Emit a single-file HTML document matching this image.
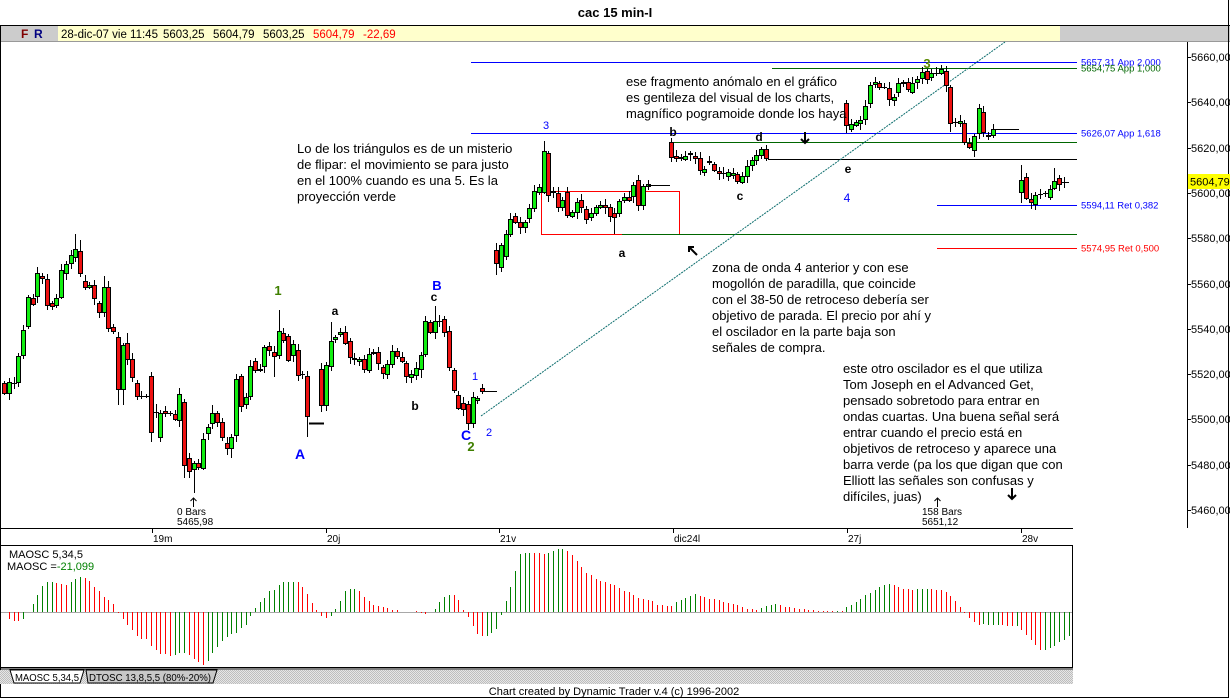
<!DOCTYPE html>
<html><head><meta charset="utf-8">
<style>
html,body{margin:0;padding:0;background:#fff;width:1230px;height:699px;overflow:hidden}
svg{display:block;font-family:"Liberation Sans",Arial,sans-serif}
</style></head><body>
<svg id="s" width="1230" height="699" viewBox="0 0 1230 699" xmlns="http://www.w3.org/2000/svg">
<defs>
<pattern id="hp" width="2" height="2" patternUnits="userSpaceOnUse"><rect width="2" height="2" fill="#e6e6e6"/><rect width="1" height="1" fill="#bdbdbd"/><rect x="1" y="1" width="1" height="1" fill="#bdbdbd"/></pattern>
</defs>
<rect width="1230" height="699" fill="#fff"/>
<text x="615" y="17" font-size="13" font-weight="bold" text-anchor="middle">cac 15 min-I</text>
<!-- info bar -->
<line x1="0" y1="25.5" x2="1230" y2="25.5" stroke="#000"/>
<rect x="0" y="26" width="1230" height="15" fill="#cccccc"/>
<rect x="58" y="26" width="1002" height="15" fill="#ffffcc"/>
<line x1="0" y1="41.5" x2="1230" y2="41.5" stroke="#999"/>
<text x="21" y="38" font-size="12" font-weight="bold" fill="#800000">F</text>
<text x="34" y="38" font-size="12" font-weight="bold" fill="#000080">R</text>
<g font-size="11.5">
<text x="61" y="38">28-dic-07 vie 11:45</text>
<text x="163" y="38">5603,25</text>
<text x="213" y="38">5604,79</text>
<text x="263" y="38">5603,25</text>
<text x="313" y="38" fill="#ff0000">5604,79</text>
<text x="363" y="38" fill="#ff0000">-22,69</text>
</g>
<!-- frame -->
<line x1="0.5" y1="25" x2="0.5" y2="698" stroke="#000"/>
<line x1="1228.5" y1="0" x2="1228.5" y2="698" stroke="#000"/>
<line x1="0" y1="697.5" x2="1229" y2="697.5" stroke="#000"/>
<!-- right axis -->
<line x1="1187.5" y1="42" x2="1187.5" y2="528" stroke="#000"/>
<g font-size="11" id="ax"></g>
<!-- date axis -->
<line x1="0" y1="528.5" x2="1073" y2="528.5" stroke="#000"/>
<g stroke="#000">
<line x1="152.5" y1="529" x2="152.5" y2="533"/><line x1="326.5" y1="529" x2="326.5" y2="533"/>
<line x1="499.5" y1="529" x2="499.5" y2="533"/><line x1="673.5" y1="529" x2="673.5" y2="533"/>
<line x1="847.5" y1="529" x2="847.5" y2="533"/><line x1="1021.5" y1="529" x2="1021.5" y2="533"/>
</g>
<g font-size="10">
<text x="153" y="542">19m</text><text x="327" y="542">20j</text><text x="500" y="542">21v</text>
<text x="674" y="542">dic24l</text><text x="848" y="542">27j</text><text x="1022" y="542">28v</text>
</g>
<!-- horizontal study lines -->
<g stroke-width="1">
<line x1="471" y1="62.5" x2="1077" y2="62.5" stroke="#0000ff"/>
<line x1="772" y1="68.5" x2="1077" y2="68.5" stroke="#006600"/>
<line x1="471" y1="133.5" x2="1077" y2="133.5" stroke="#0000ff"/>
<line x1="672" y1="142.5" x2="1077" y2="142.5" stroke="#006600"/>
<line x1="768" y1="159.5" x2="1077" y2="159.5" stroke="#000"/>
<line x1="937" y1="205.5" x2="1077" y2="205.5" stroke="#0000ff"/>
<line x1="622" y1="234.5" x2="1077" y2="234.5" stroke="#006600"/>
<line x1="937" y1="248.5" x2="1077" y2="248.5" stroke="#ff0000"/>
<rect x="541.5" y="191.5" width="138" height="43" fill="none" stroke="#ff0000"/>
<line x1="622" y1="234.5" x2="680" y2="234.5" stroke="#006600"/>
</g>
<g font-size="9.5">
<text x="1081" y="65.5" fill="#0000ff">5657,31 App 2,000</text>
<text x="1081" y="71.5" fill="#006600">5654,75 App 1,000</text>
<text x="1081" y="136.5" fill="#0000ff">5626,07 App 1,618</text>
<text x="1081" y="208.5" fill="#0000ff">5594,11 Ret 0,382</text>
<text x="1081" y="251.5" fill="#ff0000">5574,95 Ret 0,500</text>
</g>
<!-- trendline -->
<line x1="481" y1="416" x2="1005" y2="42" stroke="#0b6d6d" stroke-width="1" stroke-dasharray="2,1"/>
<!-- candles -->
<g id="cd"></g>
<g stroke="#000">
<line x1="309" y1="423.5" x2="324" y2="423.5" stroke-width="2"/>
<line x1="484" y1="391.5" x2="497" y2="391.5"/>
<line x1="648" y1="185.5" x2="670" y2="185.5"/>
<line x1="1000" y1="129.5" x2="1019" y2="129.5"/>
<line x1="1062" y1="182.5" x2="1069" y2="182.5"/>
</g>
<!-- current price -->
<rect x="1188" y="174" width="42" height="15" fill="#ffff00"/>
<text x="1190" y="185.5" font-size="11">5604,79</text>
<!-- wave labels -->
<g font-weight="bold">
<text x="278" y="295" font-size="13" fill="#3f7f00" text-anchor="middle">1</text>
<text x="335" y="315" font-size="12" text-anchor="middle">a</text>
<text x="434" y="301" font-size="12" text-anchor="middle">c</text>
<text x="437" y="290" font-size="13" fill="#0000ff" text-anchor="middle">B</text>
<text x="300" y="459" font-size="14" fill="#0000ff" text-anchor="middle">A</text>
<text x="415" y="410" font-size="12" text-anchor="middle">b</text>
<text x="466" y="440" font-size="14" fill="#0000ff" text-anchor="middle">C</text>
<text x="471" y="451" font-size="13" fill="#3f7f00" text-anchor="middle">2</text>
<text x="622" y="257" font-size="12" text-anchor="middle">a</text>
<text x="673" y="136" font-size="12" text-anchor="middle">b</text>
<text x="759" y="141" font-size="12" text-anchor="middle">d</text>
<text x="740" y="200" font-size="12" text-anchor="middle">c</text>
<text x="848" y="173" font-size="12" text-anchor="middle">e</text>
<text x="927" y="68" font-size="13" fill="#5a8a00" text-anchor="middle">3</text>
</g>
<g fill="#0000ff" font-size="11">
<text x="475" y="380" text-anchor="middle">1</text>
<text x="489" y="436" text-anchor="middle">2</text>
<text x="546" y="129" text-anchor="middle">3</text>
<text x="847" y="202" font-size="12" text-anchor="middle">4</text>
</g>
<!-- arrows -->
<g stroke="#000" fill="none">
<line x1="193.5" y1="498" x2="193.5" y2="507"/><polyline points="190.5,501 193.5,498 196.5,501"/>
<line x1="937.5" y1="498" x2="937.5" y2="507"/><polyline points="934.5,501 937.5,498 940.5,501"/>
<g stroke-width="2"><line x1="805" y1="132" x2="805" y2="143"/><polyline points="801,139 805,143 809,139"/>
<line x1="1012" y1="488" x2="1012" y2="499"/><polyline points="1008,495 1012,499 1016,495"/>
<line x1="697" y1="255" x2="689" y2="247"/><polyline points="689,252 689,247 694,247"/></g>
</g>
<g font-size="10">
<text x="177" y="515">0 Bars</text><text x="177" y="525">5465,98</text>
<text x="922" y="515">158 Bars</text><text x="922" y="525">5651,12</text>
</g>
<!-- annotations -->
<g font-size="13">
<text x="626" y="86"><tspan x="626">ese fragmento anómalo en el gráfico</tspan><tspan x="626" dy="16">es gentileza del visual de los charts,</tspan><tspan x="626" dy="16">magnífico pogramoide donde los haya</tspan></text>
<text x="297" y="153"><tspan x="297">Lo de los triángulos es de un misterio</tspan><tspan x="297" dy="16">de flipar: el movimiento se para justo</tspan><tspan x="297" dy="16">en el 100% cuando es una 5. Es la</tspan><tspan x="297" dy="16">proyección verde</tspan></text>
<text x="712" y="272"><tspan x="712">zona de onda 4 anterior y con ese</tspan><tspan x="712" dy="16">mogollón de paradilla, que coincide</tspan><tspan x="712" dy="16">con el 38-50 de retroceso debería ser</tspan><tspan x="712" dy="16">objetivo de parada. El precio por ahí y</tspan><tspan x="712" dy="16">el oscilador en la parte baja son</tspan><tspan x="712" dy="16">señales de compra.</tspan></text>
<text x="843" y="373"><tspan x="843">este otro oscilador es el que utiliza</tspan><tspan x="843" dy="16">Tom Joseph en el Advanced Get,</tspan><tspan x="843" dy="16">pensado sobretodo para entrar en</tspan><tspan x="843" dy="16">ondas cuartas. Una buena señal será</tspan><tspan x="843" dy="16">entrar cuando el precio está en</tspan><tspan x="843" dy="16">objetivos de retroceso y aparece una</tspan><tspan x="843" dy="16">barra verde (pa los que digan que con</tspan><tspan x="843" dy="16">Elliott las señales son confusas y</tspan><tspan x="843" dy="16">difíciles, juas)</tspan></text>
</g>
<!-- oscillator panel -->
<rect x="0.5" y="545.5" width="1072" height="122" fill="#fff" stroke="#000"/>
<line x1="0" y1="669" x2="1073" y2="669" stroke="#000"/>
<line x1="1" y1="612.5" x2="1072" y2="612.5" stroke="#a8a8a8"/>
<g id="os"></g>
<text x="9" y="558" font-size="11">MAOSC 5,34,5</text>
<text x="7" y="570" font-size="11">MAOSC =<tspan fill="#008000">-21,099</tspan></text>
<rect x="0" y="670" width="1073" height="14" fill="url(#hp)"/>
<path d="M10,670 L84,670 L80,683 L14,683 Z" fill="#fff" stroke="#000"/>
<path d="M86,670 L217,670 L213,683 L88,683 Z" fill="#c8c8c8" stroke="#000"/>
<text x="15" y="681" font-size="10" textLength="64" lengthAdjust="spacingAndGlyphs">MAOSC 5,34,5</text>
<text x="89" y="681" font-size="10" textLength="122" lengthAdjust="spacingAndGlyphs">DTOSC 13,8,5,5 (80%-20%)</text>
<text x="614" y="695" font-size="11" text-anchor="middle">Chart created by Dynamic Trader v.4  (c) 1996-2002</text>
</svg>
<script>
(function(){
var C=[
[383,393],[393,382],[383,383],[382,356],[355,330],[326,297],[298,304],[296,273],[276,278],[279,305],
[303,306],[305,298],[297,270],[273,264],[263,255],[257,249,234],[251,273,240],[281,287],[287,285],[285,298],
[303,312],[312,287,276],[287,328],[327,331],[337,389,0,405],[389,345,0,405],[343,359,333],[359,377],[383,396],[396,396],
[396,396],[376,432,0,442],[412,412,404,418],[437,413],[411,413],[413,413],[414,419],[420,394],[402,465,0,478],[458,471,0,478],
[469,463,0,493],[463,467],[468,439],[433,427],[423,413,405],[413,422],[422,437],[443,448,0,455],[448,437,0,458],[435,379],
[376,406],[404,397],[396,366],[361,370],[370,369],[366,347],[346,350],[352,356,0,377],[355,331,310],[333,340],
[336,360],[355,344],[350,375],[374,374],[376,416,0,437],[423,423,423,423],[423,423,423,423],[369,405],[405,365],[366,341,322],
[339,337],[334,332],[332,343],[341,357],[358,359],[361,359],[359,369],[370,354],[353,352],[352,363],
[367,373],[374,364],[364,351],[351,356],[357,361],[363,376],[377,374],[375,368],[369,355,0,378],[354,321],
[322,332],[332,321,306],[321,321],[319,332],[331,367],[370,390],[395,408],[403,409],[404,423,0,430],[423,397],
[400,398],[388,391],[391,391,391,391],null,[250,263,243,275],[267,245],[256,234],[234,219],[216,222],[222,227],
[227,222],[218,208],[208,191],[192,187],[192,151,141],[153,195],[191,192],[193,207],[207,200],[192,215],
[216,212],[212,202],[200,207],[209,219],[217,213],[213,207],[207,205],[205,207],[207,216],[213,217,0,234],
[213,201],[200,197],[197,200],[196,185],[180,205],[205,186],[186,184],[185,185,185,185],[185,185,185,185],[185,185,185,185],
[185,185,185,185],[142,157],[156,158],[158,157],[159,156],[154,153],[156,158],[158,170],[172,169],[162,161],
[164,170],[171,173],[173,173],[176,172],[175,173],[174,181],[182,176],[176,166],[165,160],[160,155],
[155,149],[149,158],null,null,null,null,null,null,null,null,
null,null,null,null,null,null,null,null,[103,125,100,133],[129,124],
[125,122],[123,120],[119,106],[103,85],[84,82],[83,87],[87,87],[88,99],[100,97],[92,83],
[83,82],[82,89],[92,83],[82,79],[78,72],[71,79],[77,73],[73,73],[73,69,65],[71,85],
[87,123,0,132],[122,122],[123,121],[123,142],[143,147],[150,136],[133,108,104],[112,132],[135,136],[135,129],
[129,129,129,129],null,null,null,null,[192,180,165,203],[177,198],[199,202],[204,195],[194,194],
[193,193],[197,189],[188,181,168],[178,184],[182,182]
];
var out='';
for(var i=0;i<C.length;i++){var d=C[i];if(!d)continue;
var cx=Math.round(4.3+4.73*i);var o=d[0],c=d[1],h=d[2],l=d[3];
var top=Math.min(o,c),bot=Math.max(o,c);
var r1=2+((i*7)%5),r2=2+((i*11)%6);
if(!h)h=top-r1;if(!l)l=bot+r2;
if(l>h)out+='<line x1="'+(cx+.5)+'" y1="'+h+'" x2="'+(cx+.5)+'" y2="'+l+'" stroke="#000"/>';
if(bot-top<1){out+='<line x1="'+(cx-2)+'" y1="'+(top+.5)+'" x2="'+(cx+3)+'" y2="'+(top+.5)+'" stroke="#000"/>';}
else{var col=c<o?'#11ee11':'#ee1111';out+='<rect x="'+(cx-1.5)+'" y="'+(top+.5)+'" width="4" height="'+(bot-top)+'" fill="'+col+'" stroke="#000"/>';}
}
document.getElementById('cd').innerHTML=out;
var O="0,-7r,-9r,-9r,-7g,0,8g,17g,26g,30g,30g,29r,28r,27r,30g,33g,35g,34r,31r,25r,21r,15r,12r,8r,-1r,-7r,-13r,-18r,-24r,-27r,-27r,-34r,-38r,-42r,-42r,-44r,-43g,-41g,-41g,-43r,-47r,-50r,-53r,-49g,-41g,-35g,-29g,-25g,-22g,-21g,-16g,-13g,-4g,4g,10g,14g,21g,22g,27g,30g,30g,30g,30r,25r,18r,9r,2r,-4r,-6r,-4g,3g,11g,21g,23g,23g,21r,15r,11r,7r,6r,5r,4r,2r,2r,0,0,0,1r,-1r,-2r,0,3g,10g,15g,17g,17r,12r,2r,-5r,-14r,-22r,-24r,-24g,-21g,-17g,-3g,11g,25g,41g,58g,59g,59g,59r,59r,58r,59g,61g,63g,63g,61r,57r,51r,45r,39r,37r,33r,31r,30r,28r,27r,24r,21r,20r,17r,14r,13r,12r,11r,7r,7r,6r,6r,10g,12g,14g,16g,18g,16r,15r,13r,13r,12r,10r,9r,8r,7r,5r,3r,3r,2r,4g,6g,7g,8g,7r,5r,5r,4r,3r,3r,2r,2r,1r,1r,1r,1r,1g,1r,5g,7g,10g,13g,17g,19g,22g,25g,27g,28g,27r,25r,23r,23r,22r,23g,23g,23g,23r,22r,22r,20r,16r,11r,5r,-1r,-6r,-10r,-13r,-12g,-13g,-13g,-13g,-13r,-14r,-14r,-14g,-18r,-23r,-28r,-33r,-38r,-38g,-36g,-34g,-30g,-28g,-24g".split(',');
var s='';
for(var j=0;j<O.length;j++){var t=O[j];var v=parseFloat(t);if(!v)continue;
var col=t.charAt(t.length-1)=='g'?'#008000':'#ff0000';var x=Math.round(4.3+4.73*j)+.5;
s+='<line x1="'+x+'" y1="612" x2="'+x+'" y2="'+(612-v)+'" stroke="'+col+'"/>';}
document.getElementById('os').innerHTML=s;
var a='';var labs=['5660,00','5640,00','5620,00','5600,00','5580,00','5560,00','5540,00','5520,00','5500,00','5480,00','5460,00'];
for(var k=0;k<labs.length;k++){var y=Math.round(57+k*45.3);
a+='<line x1="1187" y1="'+(y+.5)+'" x2="1191" y2="'+(y+.5)+'" stroke="#000"/>';
if(k!=3)a+='<text x="1191" y="'+(y+4)+'">'+labs[k]+'</text>';}
a+='<text x="1191" y="197">5600,00</text>';
document.getElementById('ax').innerHTML=a;
})();
</script>
</body></html>
